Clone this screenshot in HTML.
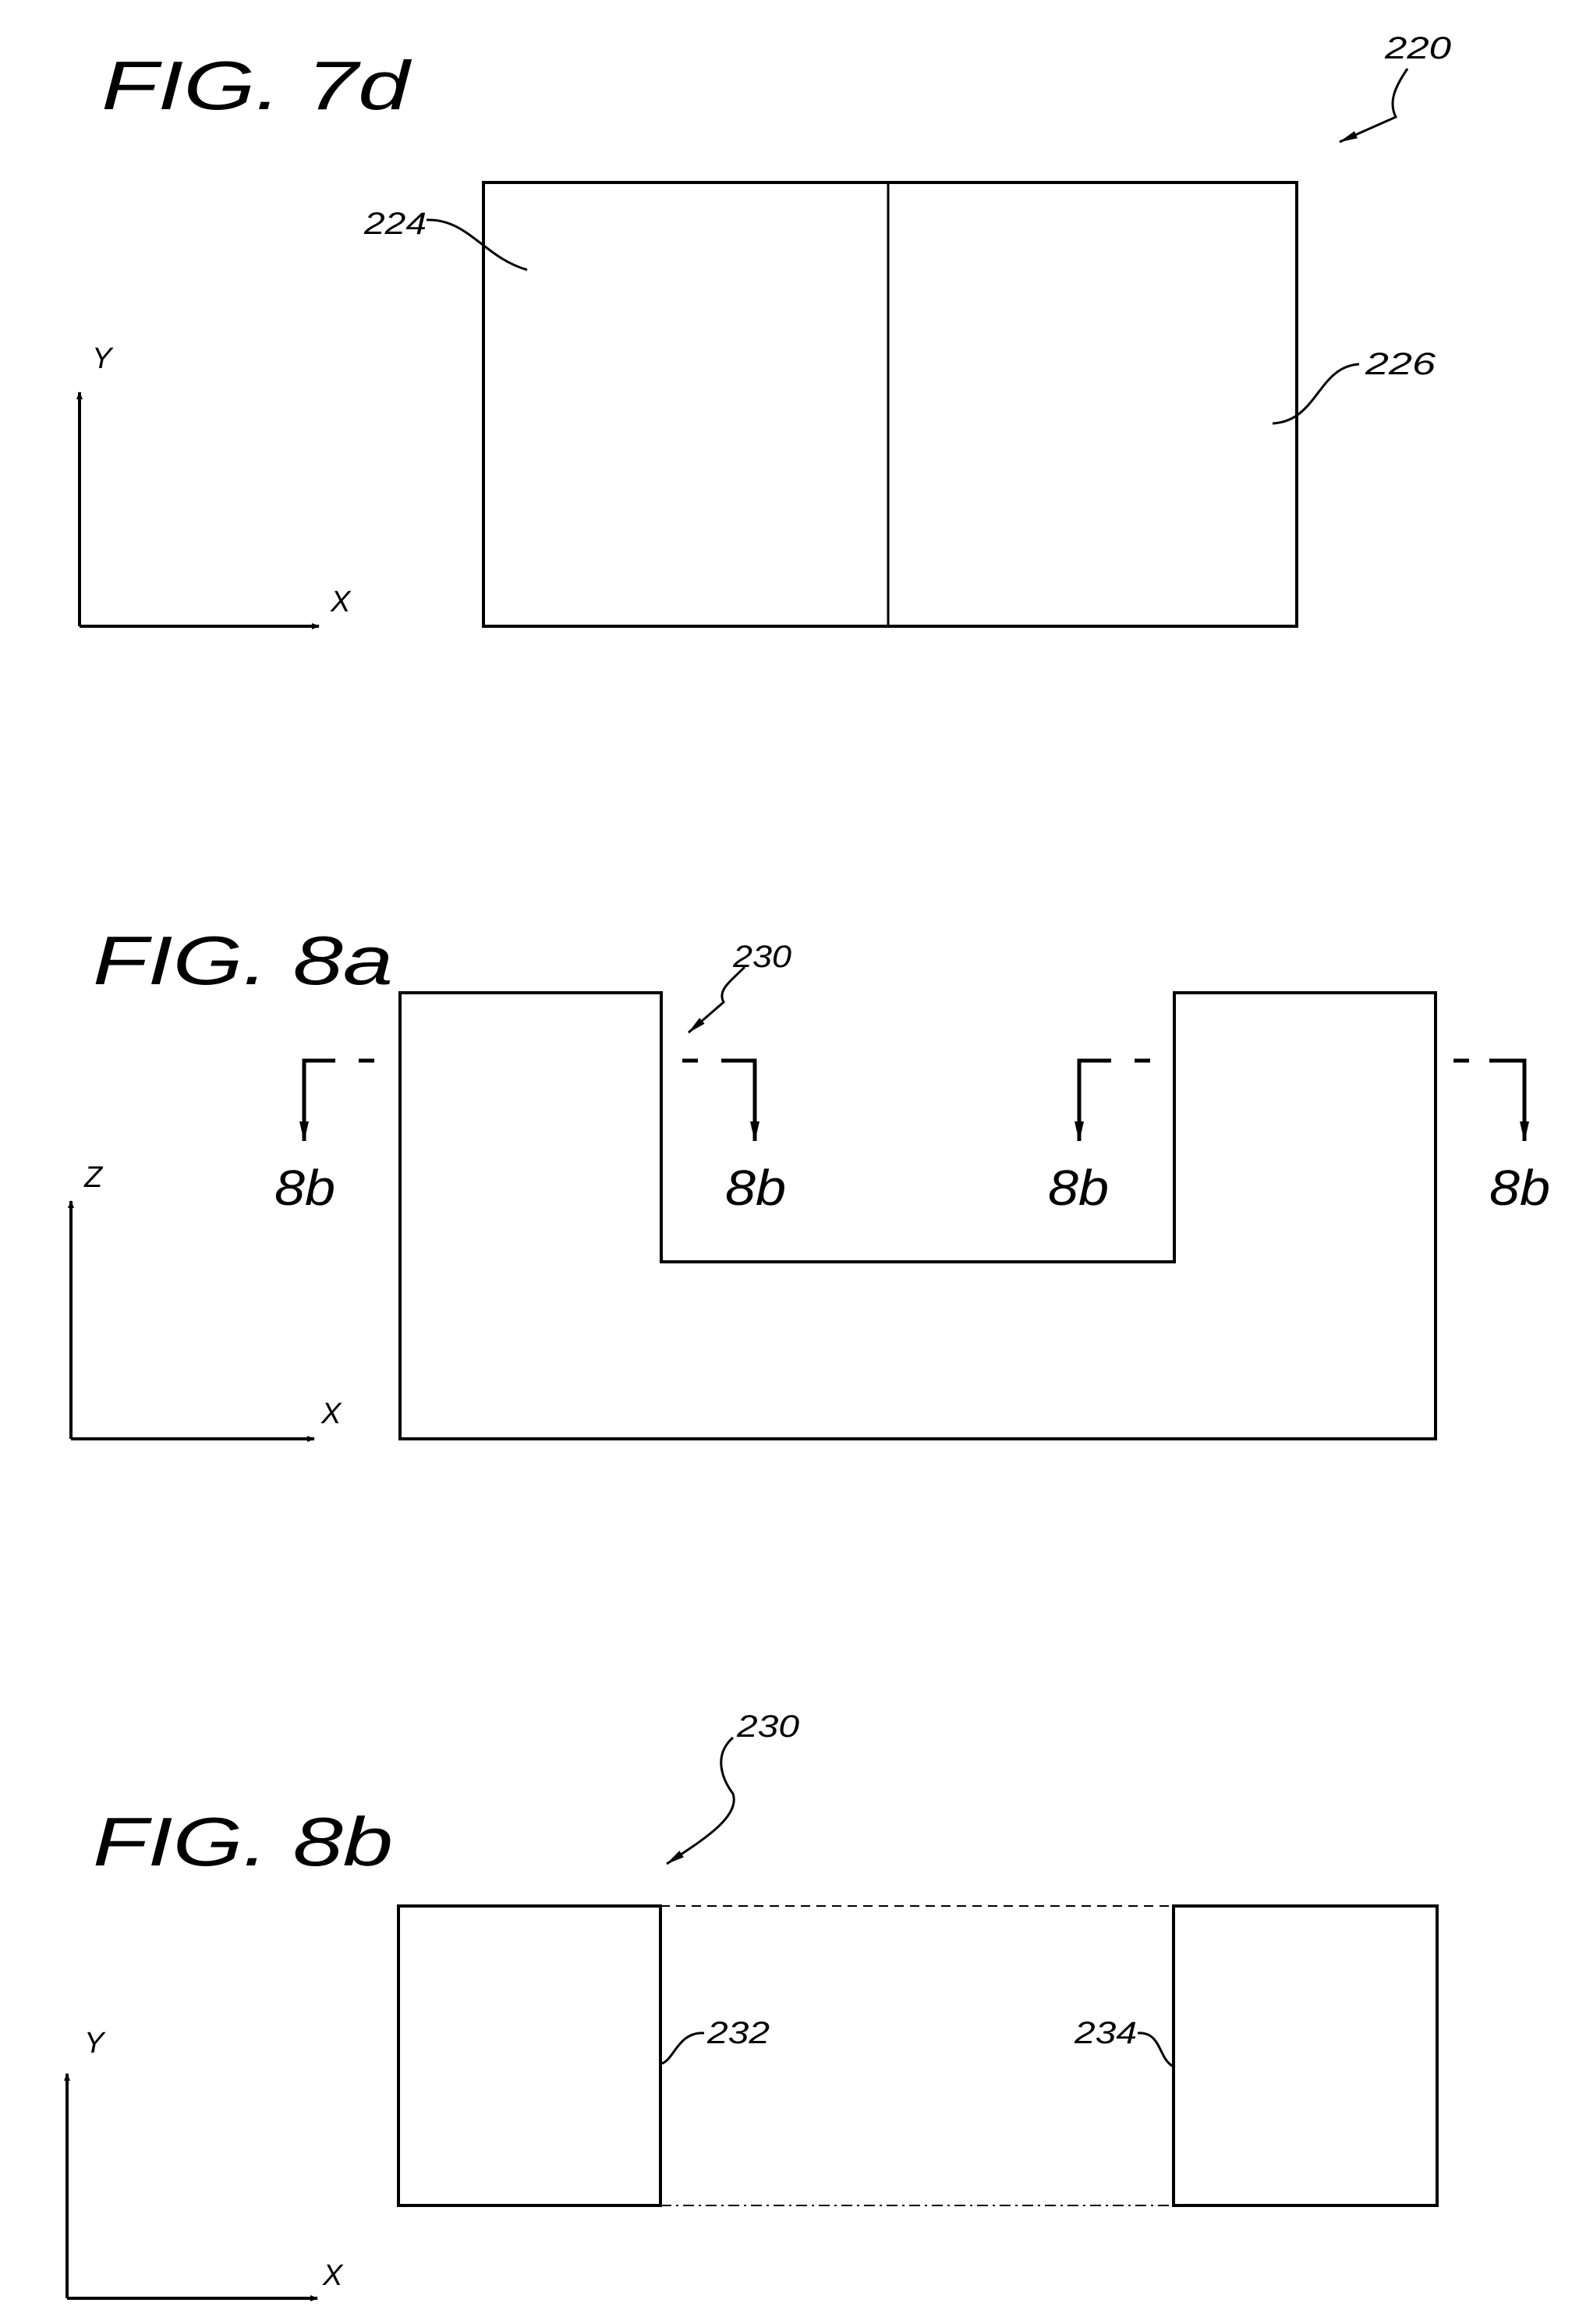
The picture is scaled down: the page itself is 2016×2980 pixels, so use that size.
<!DOCTYPE html>
<html><head><meta charset="utf-8"><style>
html,body{margin:0;padding:0;background:#fff;}
svg{display:block}
text{font-family:"Liberation Sans",sans-serif;font-style:italic;fill:#000}
</style></head><body>
<svg width="2016" height="2980" viewBox="0 0 2016 2980" xmlns="http://www.w3.org/2000/svg">
<defs>
<marker id="ah" markerWidth="10" markerHeight="8" refX="9" refY="4" orient="auto" markerUnits="userSpaceOnUse"><path d="M0,0 L10,4 L0,8 z" fill="#000"/></marker>
<marker id="ab" markerWidth="26" markerHeight="12" refX="25" refY="6" orient="auto" markerUnits="userSpaceOnUse"><path d="M0,0 L26,6 L0,12 z" fill="#000"/></marker>
<marker id="as" markerWidth="24" markerHeight="10" refX="23" refY="5" orient="auto" markerUnits="userSpaceOnUse"><path d="M0,0 L24,5 L0,10 z" fill="#000"/></marker>
</defs>
<g fill="none" stroke="#000" stroke-width="4">
<!-- FIG 7d -->
<rect x="620" y="234" width="1043" height="569"/>
<line x1="1139" y1="234" x2="1139" y2="803" stroke-width="3"/>
<path d="M547,282 C600,280 620,330 676,346" stroke-width="3"/>
<path d="M1743,467 C1690,470 1690,540 1632,543" stroke-width="3"/>
<path d="M1805,88 C1790,110 1780,130 1790,150 L1718,182" stroke-width="3" marker-end="url(#as)"/>
<line x1="102" y1="803" x2="102" y2="503" marker-end="url(#ah)"/>
<line x1="102" y1="803" x2="409" y2="803" marker-end="url(#ah)"/>
<!-- FIG 8a -->
<path d="M513,1273 L848,1273 L848,1618 L1506,1618 L1506,1273 L1841,1273 L1841,1845 L513,1845 Z"/>
<path d="M955,1240 C935,1260 920,1270 928,1285 L883,1324" stroke-width="3" marker-end="url(#as)"/>
<g stroke-width="5">
<path d="M430,1360 L390,1360 L390,1463" marker-end="url(#ab)"/>
<line x1="460" y1="1360" x2="480" y2="1360"/>
<path d="M925,1360 L968,1360 L968,1463" marker-end="url(#ab)"/>
<line x1="875" y1="1360" x2="895" y2="1360"/>
<path d="M1425,1360 L1384,1360 L1384,1463" marker-end="url(#ab)"/>
<line x1="1455" y1="1360" x2="1475" y2="1360"/>
<path d="M1910,1360 L1955,1360 L1955,1463" marker-end="url(#ab)"/>
<line x1="1864" y1="1360" x2="1884" y2="1360"/>
</g>
<line x1="91" y1="1845" x2="91" y2="1540" marker-end="url(#ah)"/>
<line x1="91" y1="1845" x2="403" y2="1845" marker-end="url(#ah)"/>
<!-- FIG 8b -->
<rect x="511" y="2444" width="336" height="384"/>
<rect x="1505" y="2444" width="338" height="384"/>
<line x1="847" y1="2444" x2="1505" y2="2444" stroke-width="2" stroke-dasharray="12,8"/>
<line x1="847" y1="2828" x2="1505" y2="2828" stroke-width="2" stroke-dasharray="14,6,3,6"/>
<path d="M940,2228 C915,2250 925,2280 940,2300 C950,2330 900,2360 855,2390" stroke-width="3" marker-end="url(#as)"/>
<path d="M903,2607 C870,2605 865,2640 849,2646" stroke-width="3"/>
<path d="M1459,2607 C1490,2605 1485,2640 1505,2650" stroke-width="3"/>
<line x1="86" y1="2947" x2="86" y2="2659" marker-end="url(#ah)"/>
<line x1="86" y1="2947" x2="407" y2="2947" marker-end="url(#ah)"/>
</g>
<g>
<text x="130" y="140" font-size="88" textLength="395" lengthAdjust="spacingAndGlyphs">FIG.  7d</text>
<text x="1776" y="75" font-size="40" textLength="85" lengthAdjust="spacingAndGlyphs">220</text>
<text x="467" y="300" font-size="40" textLength="80" lengthAdjust="spacingAndGlyphs">224</text>
<text x="1751" y="480" font-size="40" textLength="90" lengthAdjust="spacingAndGlyphs">226</text>
<text x="118" y="472" font-size="38">Y</text>
<text x="424" y="784" font-size="38">X</text>

<text x="119" y="1262" font-size="88" textLength="385" lengthAdjust="spacingAndGlyphs">FIG.  8a</text>
<text x="940" y="1240" font-size="40" textLength="75" lengthAdjust="spacingAndGlyphs">230</text>
<text x="352" y="1545" font-size="64" textLength="78" lengthAdjust="spacingAndGlyphs">8b</text>
<text x="930" y="1545" font-size="64" textLength="78" lengthAdjust="spacingAndGlyphs">8b</text>
<text x="1344" y="1545" font-size="64" textLength="78" lengthAdjust="spacingAndGlyphs">8b</text>
<text x="1910" y="1545" font-size="64" textLength="78" lengthAdjust="spacingAndGlyphs">8b</text>
<text x="108" y="1522" font-size="38">Z</text>
<text x="412" y="1825" font-size="38">X</text>

<text x="119" y="2392" font-size="88" textLength="385" lengthAdjust="spacingAndGlyphs">FIG.  8b</text>
<text x="945" y="2227" font-size="40" textLength="80" lengthAdjust="spacingAndGlyphs">230</text>
<text x="907" y="2620" font-size="40" textLength="80" lengthAdjust="spacingAndGlyphs">232</text>
<text x="1378" y="2620" font-size="40" textLength="80" lengthAdjust="spacingAndGlyphs">234</text>
<text x="108" y="2632" font-size="38">Y</text>
<text x="414" y="2930" font-size="38">X</text>
</g>
</svg>
</body></html>
